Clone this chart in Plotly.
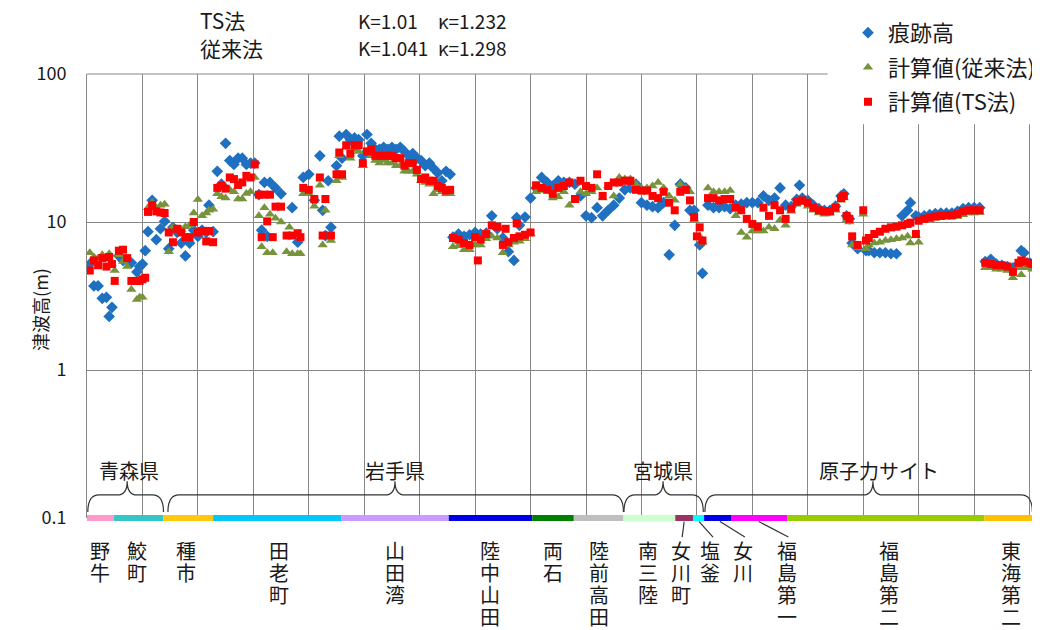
import plotly.graph_objects as go

# ---------------- data ----------------
# position of each survey point along the coast (site sequence)
pos = [1, 2.5, 4, 5.5, 7, 8, 9, 10, 11.5, 13, 14.5, 16, 18, 19, 20, 21, 22, 23.5, 25, 26.5, 28,
       29.5, 31, 32.5, 34, 35.5, 37, 38.5, 40, 41.5, 43, 44, 45.5,
       47, 48.5, 50, 51.5, 53, 54.5, 56, 57.5, 59, 60.5, 62, 63, 64, 65, 66, 67, 68, 70, 72, 73, 74,
       76, 77, 78, 80, 82, 84, 85, 86, 87, 88, 90, 91, 92,
       93.5, 95, 96.5, 98, 99.5, 101, 102.5, 104, 105.5, 107, 108.5, 110, 111.5, 113, 114.5, 116,
       117.5, 119, 120.5, 122, 123.5, 125, 126.5, 128, 129.5, 131,
       132, 134, 136, 138, 140, 141, 142, 144, 146, 148, 150, 151, 152, 154, 155, 156, 158, 160,
       162, 164, 166, 168, 170, 172, 174, 176,
       178, 180, 182, 184, 186, 188, 190, 192, 194,
       196, 198, 200, 202, 204, 206, 208, 210, 212,
       214, 216, 217.5,
       219, 220, 221, 222,
       224, 226, 228, 230, 232,
       234, 236, 238, 240, 242, 244, 246, 248, 250, 252,
       254, 256, 257, 258, 260, 262, 264, 266, 268, 270, 272, 273, 274, 275, 276, 278, 280, 281,
       282, 284, 286, 288, 290, 292, 294, 296, 297, 299, 300, 302, 304, 306, 308, 310, 312, 314,
       316, 318, 320, 322,
       324, 326, 328, 330, 332, 334, 336, 337, 338, 340, 341]

# 痕跡高 (observed run-up traces)
obs = [5.2, 3.7, 3.7, 3.05, 3.1, 2.3, 2.65, None, 5.9, 5.5, 5.5, 5.3, 4.6, 5.0, 5.2, 6.4, 8.6, 14.0, 7.6, 9.0, 10.1,
       6.6, 9.2, 8.5, 7.2, 5.9, 7.2, 8.8, 8.0, 8.8, 8.5, 13.0, 8.6,
       22, 18, 34, 26, 24.5, 27, 27, 24.5, 25, 25, 15.3, 8.8, 18.5, 8.0, 18.5, None, 17, 15.5, None, None, 12.5,
       7.3, None, 20, 21, 14, 28, 12, 8.1, 19, 9.2, 24, 38, 27,
       39, 36, 37, 36, 28, 39, 34, 31, 31, 32, 31, 32, 31, 32, 30, 28,
       29, 27, 26, 24, 25, 23, 21.5, 19, 22, 21,
       7.9, 8.3, 8.0, 8.2, 8.5, None, 8.3, 8.4, 11.0, 9.0, 7.8, None, 6.3, 5.5, 10.7, 9.5, 10.8, 14.5,
       17, 20, 18.5, 17.5, 19, 18.5, 18.5, 18,
       15, 11, 10.7, 12.5, 11, 12, 13, 14.5, 16.5,
       17, 18, 13.5, 13, 12.7, 12.5, 13.5, 6.0, 9.5,
       18, 17, 12,
       12, None, 7.0, 4.5,
       13, 12.5, 12.5, 12.7, 12.3,
       13, 13.2, 13.5, 13.5, 13.5, 15, 14, 14.5, 17, 13,
       12.7, 14.2, 17.7, 14.5, 14, 13, 12.3, 12, 12, 12.8, 15, 15.5, 11, 10.5, 7.2, 6.6, None, 6.4,
       6.4, 6.2, 6.2, 6.2, 6.1, 6.1, 11, 12, 13.5, 11, 10.8, 11, 11.2, 11.4, 11.5, 11.5, 11.5, 11.8,
       12.3, 12.5, 12.5, 12.5,
       5.4, 5.6, 5.2, 5.1, 5.0, 4.9, 5.2, 6.4, 6.2, 5.3, 5.1]

# 計算値(従来法)
conv = [6.2, 5.8, 5.7, 6.0, 5.6, 6.1, 5.2, 4.7, 6.0, 5.4, 5.0, 3.5, 3.0, 3.1, 3.1, None, 12.5, 13.5, 12.4, 13.0, 13.2,
        6.3, 9.2, 9.0, 8.9, 9.3, 9.5, 11.5, 14.2, 11.0, 11.5, 12.0, 12.2,
        15.5, 14.8, 14.5, 16.5, 16, 14.3, 14.3, 15.6, 16, 20, 11, 6.8, 12.5, 6.2, 11.3, 6.2, 10.6, 10, 6.3, 9.2, 6.1,
        6.1, 6.1, 15.5, 15.5, 12.8, 17.7, 7.0, 12, None, 7.5, 19, 28, 20,
        32, 27, 31, 30, 24, 30, 28, 26, 25, 26, 25, 25, 24, 24, 22, 22,
        22, 21, 19, 18.5, 18, 15.5, 16.5, 16, 15.5, 15.5,
        6.8, 6.9, 6.5, 6.5, 7.0, None, 7.0, 7.7, 8.0, 7.8, 6.2, None, 7.0, 7.3, None, 7.4, 7.7, 8.3,
        16, 16.3, 16.5, 14.5, 14.8, 16, 13, 14,
        16, 15.5, 16, 17, 14.5, 17.5, 15, 20, 19.5,
        19.5, 18, 17, 17, 17.5, 18.5, 17, 15, 14,
        18, 17, 16,
        10.3, None, 8.0, 7.3,
        17, 16, 16, 16, 16.3,
        11, 8.5, 7.9, 8.7, 8.7, 8.7, 9.2, 9, 10.3, 9.5,
        11.8, 13.2, None, 13.5, 12.8, 12, 11.5, 11.3, 11.5, 12, 14, 14.5, 10.3, 10, 7.0, 6.7, 11.3, 6.6,
        7.0, 7.2, 7.3, 7.5, 7.6, 7.7, 7.8, 8.0, 7.2, 8.1, 7.3, 10.3, 10.4, 10.6, 10.7, 10.8, 10.8, 10.9,
        11.2, 11.5, 11.5, 11.6,
        4.9, 4.9, 4.8, 4.8, 4.7, 4.2, 4.9, 4.4, 4.9, 4.9, 4.8]

# 計算値(TS法)
ts = [4.7, 5.5, 5.1, 5.7, 5.0, 5.8, 5.2, 4.0, 6.4, 6.5, 5.7, 4.0, 4.0, 4.0, 4.1, 4.2, 11.7, 13.0, 11.8, 11.6, 11.5,
      8.5, 7.3, 9.0, 8.5, 7.9, 7.9, 10.0, 8.5, 8.7, 7.4, 8.7, 7.3,
      17, 17.6, 16.8, 20, 19.5, 17.8, 18.5, 20.5, 20, 24.5, 15.3, 7.9, 15.3, 10.1, 15.3, 7.9, 12.7, 12.7, 8.1, None, 8.1,
      8.4, 7.9, 17, 16.5, 14.3, 20, 8.1, 14.3, None, 8.1, 21, 29.5, 21,
      33, 29, 33, 33, 25, 30, 31, 28, 28, 28, 28, 28, 27, 27, 24, 25,
      25, 22.5, 19.5, 20, 19, 19, 17.5, 17, 16.3, 16.5,
      7.8, 7.6, 7.2, 7.0, 7.9, 5.5, 7.6, 8.3, 9.5, 9.3, 7.0, 9.0, 7.3, 7.8, 9.8, 8.0, 8.2, 8.5,
      17.7, 17, 16.5, 15.5, 17, 17.5, 18.5, 14.3,
      19, 17.5, 17, 21, 15, 17.5, 18.5, 18.5, 19,
      19, 16.5, 16.3, 16.3, 15, 14.5, 16, 13.5, 12,
      16, 16.5, 14,
      10.8, 8.0, 9.2, 7.5,
      14.5, 14.5, 14, 14.3, 14.3,
      12.5, 12, 10.5, 9.7, 9.3, 12.5, 11, 13, 12, 10.5,
      12.3, 13.7, None, 14, 13.5, 12.5, 12, 11.8, 11.8, 12.5, 14.5, 15, 11, 10.5, 8.0, 7.0, 12, 7.5,
      7.8, 8.3, 8.6, 9.0, 9.2, 9.3, 9.5, 9.7, 9.9, 8.3, 10.2, 10.5, 10.7, 10.9, 11, 11.1, 11.1, 11.3,
      11.8, 12, 12, 12,
      5.3, 5.2, 5.1, 5.1, 5.0, 4.6, 5.3, 5.5, 5.4, 5.3, 5.2]

# site segments along the coast (boundaries in site-sequence units) and their colours
seg_edges = [0, 9.7, 27.6, 45.5, 91.8, 130.5, 160.6, 175.6, 193.5, 212.2, 218.6, 222.6, 232.3, 252.7,
             323.7, 341.6]
seg_colors = ["#FF99CC", "#33C6C6", "#FFC90E", "#00C8F8", "#CC99FF", "#0000E6", "#008000", "#BFBFBF",
              "#CCFFCC", "#993366", "#00FFFF", "#0000E6", "#FF00FF", "#99CC00", "#FFC000"]

site_names = ["野牛", "鮫町", "種市", "田老町", "山田湾", "陸中山田", "両石", "陸前高田", "南三陸",
              "女川町", "塩釜", "女川", "福島第一", "福島第二", "東海第二"]
site_label_x = [4.7, 17.9, 35.8, 69.2, 111.1, 145.2, 168.1, 184.6, 202.5, 214.2, 224.9, 236.8, 252.5,
                289.2, 333.3]

# prefecture groups: name, start, end, brace tip, label centre
groups = [("青森県", 0.3, 27.6, 14.5, 15.0), ("岩手県", 29.2, 193.5, 111.1, 111.1),
          ("宮城県", 193.7, 222.3, 207.8, 207.8), ("原子力サイト", 222.9, 341.0, 283.5, 285.8)]

# leader lines: (bar x, label x)
leaders = [(215.4, 214.7), (220.8, 225.8), (228.3, 237.3), (242.3, 253.0)]

tick_vals = [0.1, 1, 10, 100]
tick_text = ["0.1", "1", "10", "100"]

# ---------------- figure ----------------
FONT = "Noto Sans CJK JP, Noto Sans, sans-serif"
TXT = "#1a1a1a"
GRID = "#878787"
PLOT_H = 444.0  # plot-area height in px, used to convert vertical offsets to paper units

fig = go.Figure()
fig.add_trace(go.Scatter(x=pos, y=obs, mode="markers", name="痕跡高", legendgroup="a",
                         marker=dict(symbol="diamond", size=9, color="#1F70C1")))
fig.add_trace(go.Scatter(x=pos, y=conv, mode="markers", name="計算値(従来法)", legendgroup="b",
                         marker=dict(symbol="triangle-up", size=9, color="#77933C")))
fig.add_trace(go.Scatter(x=pos, y=ts, mode="markers", name="計算値(TS法)", legendgroup="c",
                         marker=dict(symbol="square", size=8, color="#FF0000")))

shapes = []
# top border line (y = 100)
shapes.append(dict(type="line", xref="x", yref="paper", x0=0, x1=seg_edges[-1], y0=1, y1=1,
                   line=dict(color=GRID, width=1), layer="below"))
# white area behind the legend (hides grid at the top right)
shapes.append(dict(type="rect", xref="paper", yref="paper", x0=0.782, x1=1.01, y0=0.887, y1=1.01,
                   fillcolor="white", line=dict(width=0), layer="above"))
# coloured site bar
for i, c in enumerate(seg_colors):
    shapes.append(dict(type="line", xref="x", yref="paper", x0=seg_edges[i], x1=seg_edges[i + 1],
                       y0=0.0, y1=0.0, line=dict(color=c, width=6)))

# braces
ye, yh, yt = 0.0135, 0.052, 0.083
for name, a, b, m, lx in groups:
    d, dm = 4.0, 3.5
    p = (f"M {a},{ye} Q {a},{yh} {a + d},{yh} L {m - dm},{yh} Q {m},{yh} {m},{yt} "
         f"Q {m},{yh} {m + dm},{yh} L {b - d},{yh} Q {b},{yh} {b},{ye}")
    shapes.append(dict(type="path", xref="x", yref="paper", path=p, line=dict(color="#333333", width=1.2)))

for bx, lx in leaders:
    shapes.append(dict(type="line", xref="x", yref="paper", x0=bx, y0=-0.008, x1=lx, y1=-0.043,
                       line=dict(color="#333333", width=1.2)))

annotations = []
# vertical site labels, one character per line
first_center = -32.0 / PLOT_H
step = 22.0 / PLOT_H
for name, lx in zip(site_names, site_label_x):
    for j, ch in enumerate(name):
        annotations.append(dict(x=lx, y=first_center - j * step, xref="x", yref="paper", text=ch,
                                showarrow=False, xanchor="center", yanchor="middle", borderpad=0,
                                font=dict(size=20, family=FONT, color=TXT)))
for name, a, b, m, lx in groups:
    annotations.append(dict(x=lx, y=0.108, xref="x", yref="paper", text=name, showarrow=False,
                            xanchor="center", yanchor="middle", font=dict(size=20, family=FONT, color=TXT)))

# header texts
for txt, px, py, fs in [("TS法", 0.1175, 1.1216, 21), ("従来法", 0.1175, 1.0586, 21),
                        ("K=1.01", 0.2844, 1.1216, 19), ("κ=1.232", 0.3683, 1.1216, 19),
                        ("K=1.041", 0.2844, 1.0586, 19), ("κ=1.298", 0.3683, 1.0586, 19)]:
    annotations.append(dict(x=px, y=py, xref="paper", yref="paper", text=txt, showarrow=False,
                            xanchor="left", yanchor="middle", font=dict(size=fs, family=FONT, color=TXT)))

# y axis title
annotations.append(dict(x=-0.049, y=0.47, xref="paper", yref="paper", text="津波高(m)", textangle=-90,
                        showarrow=False, xanchor="center", yanchor="middle",
                        font=dict(size=18, family=FONT, color=TXT)))

fig.update_layout(
    width=1032, height=622,
    margin=dict(l=79, r=0, t=66, b=112),
    paper_bgcolor="white", plot_bgcolor="white",
    font=dict(family=FONT, color=TXT, size=18),
    shapes=shapes, annotations=annotations,
    legend=dict(x=0.804, y=1.14, xanchor="left", yanchor="top", bgcolor="white",
                font=dict(size=22, family=FONT, color=TXT), tracegroupgap=3),
    xaxis=dict(range=[0, seg_edges[-1]], tick0=0, dtick=20, showgrid=True, gridcolor=GRID, gridwidth=1,
               showticklabels=False, zeroline=False, showline=False, ticks=""),
    yaxis=dict(type="log", range=[-1, 2], tickvals=tick_vals, ticktext=tick_text, showgrid=True,
               gridcolor=GRID, gridwidth=1, zeroline=False, showline=True, linecolor=GRID, ticks="",
               ticklabelstandoff=16, tickfont=dict(size=18, family=FONT, color=TXT)),
)

fig.write_html("out.html")
